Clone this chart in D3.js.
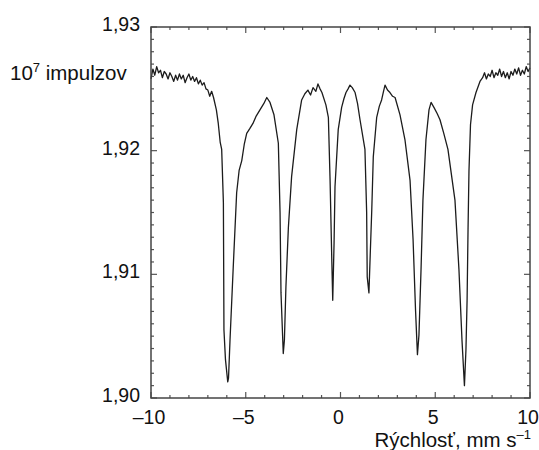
<!DOCTYPE html>
<html>
<head>
<meta charset="utf-8">
<script src="https://cdn.jsdelivr.net/npm/d3@7"></script>
<style>
  body { margin: 0; background: #fff; }
  text { font-family: "Liberation Sans", Arial, sans-serif; fill: #111; }
</style>
</head>
<body>
<div id="chart"></div>
<script>
// rýchlosť (mm/s) a počet impulzov (x 10^7), odčítané z obrázka
const velocity = [
  -10.0, -9.9, -9.8, -9.7, -9.6, -9.5, -9.4, -9.3, -9.2, -9.1, -9.0, -8.9, -8.8, -8.7, -8.6, -8.5,
  -8.4, -8.3, -8.2, -8.1, -8.0, -7.9, -7.8, -7.7, -7.6, -7.5, -7.4, -7.3, -7.2, -7.1, -7.0, -6.9,
  -6.8, -6.7, -6.55, -6.45, -6.35, -6.27, -6.18, -6.15, -6.07, -5.95, -5.91, -5.83, -5.66, -5.48,
  -5.35, -5.21, -5.08, -4.95, -4.78, -4.62, -4.45, -4.25, -4.05, -3.89, -3.72, -3.51, -3.28, -3.19,
  -3.14, -3.02, -2.96, -2.88, -2.75, -2.58, -2.31, -2.05, -1.88, -1.72, -1.58, -1.45, -1.3, -1.19,
  -1.08, -0.98, -0.77, -0.64, -0.55, -0.46, -0.41, -0.34, -0.29, -0.12, 0.06, 0.18, 0.29, 0.4,
  0.5, 0.62, 0.77, 0.9, 1.03, 1.29, 1.38, 1.41, 1.5, 1.56, 1.65, 1.73, 1.91, 2.05, 2.17, 2.27,
  2.35, 2.48, 2.61, 2.75, 2.88, 3.14, 3.4, 3.67, 3.83, 3.96, 4.06, 4.14, 4.25, 4.35, 4.51, 4.67,
  4.78, 4.93, 5.1, 5.25, 5.45, 5.67, 6.04, 6.25, 6.41, 6.54, 6.62, 6.68, 6.73, 6.78, 6.86, 6.97,
  7.15, 7.36, 7.5, 7.6, 7.7, 7.8, 7.9, 8.0, 8.1, 8.2, 8.3, 8.4, 8.5, 8.6, 8.7, 8.8, 8.9, 9.0,
  9.1, 9.2, 9.3, 9.4, 9.5, 9.6, 9.7, 9.8, 9.9, 10.0
];
const counts = [
  1.9258, 1.9266, 1.9261, 1.9268, 1.9263, 1.9265, 1.9259, 1.9264, 1.9262, 1.9258, 1.9263, 1.9260, 1.9256, 1.9261, 1.9257, 1.9262,
  1.9258, 1.9261, 1.9255, 1.9259, 1.9262, 1.9257, 1.9260, 1.9256, 1.9259, 1.9254, 1.9257, 1.9253, 1.9255, 1.9250, 1.9249, 1.9244,
  1.9248, 1.9243, 1.9233, 1.9222, 1.9207, 1.9201, 1.9158, 1.9055, 1.9031, 1.9013, 1.9016, 1.9047, 1.9106, 1.9166,
  1.9184, 1.9192, 1.9205, 1.9214, 1.9218, 1.9222, 1.9228, 1.9233, 1.9238, 1.9243, 1.9239, 1.9229, 1.9206, 1.9150,
  1.9085, 1.9036, 1.9047, 1.9090, 1.9138, 1.9179, 1.9217, 1.9241, 1.9246, 1.9249, 1.9245, 1.9251, 1.9248, 1.9254,
  1.9250, 1.9247, 1.9237, 1.9227, 1.9176, 1.9112, 1.9079, 1.9125, 1.9171, 1.9217, 1.9235, 1.9242, 1.9247, 1.9250,
  1.9253, 1.9251, 1.9247, 1.9238, 1.9225, 1.9201, 1.9150, 1.9098, 1.9085, 1.9112, 1.9152, 1.9195, 1.9227, 1.9236, 1.9241, 1.9248,
  1.9253, 1.9249, 1.9247, 1.9244, 1.9243, 1.9229, 1.9209, 1.9176, 1.9128, 1.9071, 1.9035, 1.9051, 1.9104, 1.9160, 1.9209, 1.9233,
  1.9239, 1.9235, 1.9230, 1.9225, 1.9214, 1.9201, 1.9160, 1.9104, 1.9047, 1.9010, 1.9039, 1.9079, 1.9136, 1.9184, 1.9221, 1.9237,
  1.9247, 1.9256, 1.9259, 1.9263, 1.9258, 1.9262, 1.9260, 1.9265, 1.9259, 1.9263, 1.9261, 1.9266, 1.9260, 1.9264, 1.9259, 1.9263, 1.9258, 1.9264,
  1.9261, 1.9266, 1.9262, 1.9267, 1.9261, 1.9265, 1.9262, 1.9268, 1.9264, 1.9267
];
const xTickValues = [-10, -5, 0, 5, 10];
const yTickValues = [1.90, 1.91, 1.92, 1.93];

const margin = { top: 27, right: 9, bottom: 52, left: 151 };
const W = 539, H = 450;
const width = W - margin.left - margin.right;
const height = H - margin.top - margin.bottom;

const svg = d3.select("#chart").append("svg")
    .attr("width", W)
    .attr("height", H);

const g = svg.append("g")
    .attr("transform", `translate(${margin.left},${margin.top})`);

const x = d3.scaleLinear().domain([-10, 10]).range([0, width]);
const y = d3.scaleLinear().domain([1.90, 1.93]).range([height, 0]);

// ticks inside the frame on all four sides
const xMinor = d3.range(-10, 10.001, 1);
const yMinor = d3.range(0, 31).map(i => 1.90 + i * 0.001);
const isMajorX = v => Math.abs(v % 5) < 1e-6;
const isMajorY = v => Math.abs(Math.round(v * 1000) % 10) === 0;
const tickLen = (major) => major ? 6 : 3;

const ticks = g.append("g").attr("stroke", "#555").attr("stroke-width", 1.2);
xMinor.forEach(v => {
  const L = tickLen(isMajorX(v));
  ticks.append("line").attr("x1", x(v)).attr("x2", x(v)).attr("y1", height).attr("y2", height - L);
  ticks.append("line").attr("x1", x(v)).attr("x2", x(v)).attr("y1", 0).attr("y2", L);
});
yMinor.forEach(v => {
  const L = tickLen(isMajorY(v));
  ticks.append("line").attr("x1", 0).attr("x2", L).attr("y1", y(v)).attr("y2", y(v));
  ticks.append("line").attr("x1", width).attr("x2", width - L).attr("y1", y(v)).attr("y2", y(v));
});

// spectrum line
const pts = velocity.map((v, i) => [v, counts[i]]);
g.append("path")
    .datum(pts)
    .attr("fill", "none")
    .attr("stroke", "#1c1c1c")
    .attr("stroke-width", 1.3)
    .attr("stroke-linejoin", "round")
    .attr("d", d3.line().x(d => x(d[0])).y(d => y(d[1])));

// frame
g.append("rect")
    .attr("width", width)
    .attr("height", height)
    .attr("fill", "none")
    .attr("stroke", "#444")
    .attr("stroke-width", 1.5);

// tick labels
const fmtX = d => d < 0 ? "\u2013" + Math.abs(d) : String(d);
g.selectAll(".xlab")
    .data(xTickValues)
    .enter().append("text")
    .attr("class", "xlab")
    .attr("x", d => x(d) - 2)
    .attr("y", height + 26)
    .attr("text-anchor", "middle")
    .style("font-size", "19.5px")
    .text(fmtX);

g.selectAll(".ylab")
    .data(yTickValues)
    .enter().append("text")
    .attr("class", "ylab")
    .attr("x", -11)
    .attr("y", d => y(d) + 4)
    .attr("text-anchor", "end")
    .style("font-size", "19.5px")
    .text(d => d.toFixed(2).replace(".", ","));

// axis titles
const yTitle = svg.append("text")
    .attr("x", 10)
    .attr("y", 80)
    .style("font-size", "20.5px");
yTitle.append("tspan").text("10");
yTitle.append("tspan").attr("dy", -8).style("font-size", "13px").text("7");
yTitle.append("tspan").attr("dy", 8).text(" impulzov");

const xTitle = svg.append("text")
    .attr("x", 531)
    .attr("y", 447)
    .attr("text-anchor", "end")
    .style("font-size", "20.5px");
xTitle.append("tspan").text("Rýchlosť, mm s");
xTitle.append("tspan").attr("dy", -8).style("font-size", "13px").text("\u20131");
</script>
</body>
</html>
